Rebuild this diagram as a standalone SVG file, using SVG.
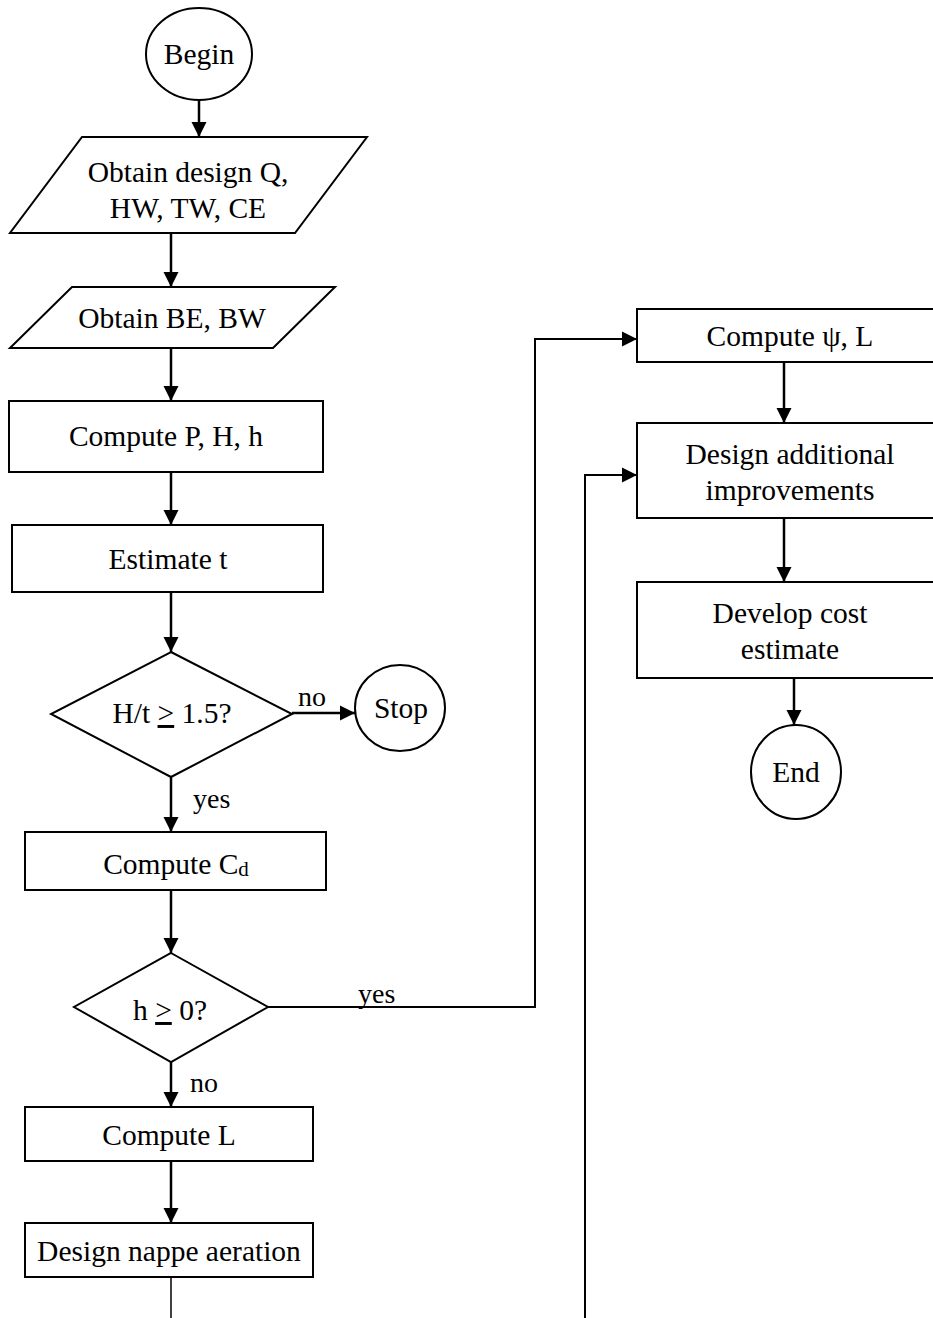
<svg xmlns="http://www.w3.org/2000/svg" width="933" height="1318" viewBox="0 0 933 1318">
<style>
.s{fill:#fff;stroke:#000;stroke-width:2}
.t{font-family:"Liberation Serif","Times New Roman",serif;font-size:29.5px;fill:#000;text-anchor:middle}
.l{font-family:"Liberation Serif","Times New Roman",serif;font-size:28px;fill:#000}
.c{fill:none;stroke:#000;stroke-width:2.5}
.c2{fill:none;stroke:#000;stroke-width:2}
</style>
<defs>
<marker id="ah" markerUnits="userSpaceOnUse" markerWidth="16" markerHeight="16" refX="15" refY="8" orient="auto">
<path d="M0,0.5 L15,8 L0,15.5 Z" fill="#000"/>
</marker>
</defs>
<rect width="933" height="1318" fill="#fff"/>
<g id="connectors">
<line class="c" x1="199" y1="100" x2="199" y2="137" marker-end="url(#ah)"/>
<line class="c" x1="171" y1="233" x2="171" y2="287" marker-end="url(#ah)"/>
<line class="c" x1="171" y1="348" x2="171" y2="401" marker-end="url(#ah)"/>
<line class="c" x1="171" y1="472" x2="171" y2="525" marker-end="url(#ah)"/>
<line class="c" x1="171" y1="592" x2="171" y2="652" marker-end="url(#ah)"/>
<line class="c" x1="292" y1="713" x2="355" y2="713" marker-end="url(#ah)"/>
<line class="c" x1="171" y1="777" x2="171" y2="832" marker-end="url(#ah)"/>
<line class="c" x1="171" y1="890" x2="171" y2="953" marker-end="url(#ah)"/>
<polyline class="c2" points="268,1007 535,1007 535,339 637,339" marker-end="url(#ah)"/>
<line class="c" x1="171" y1="1062" x2="171" y2="1107" marker-end="url(#ah)"/>
<line class="c" x1="171" y1="1161" x2="171" y2="1223" marker-end="url(#ah)"/>
<line class="c2" x1="171" y1="1277" x2="171" y2="1318" style="stroke-width:1.5"/>
<polyline class="c2" points="585,1318 585,475 637,475" marker-end="url(#ah)"/>
<line class="c" x1="784" y1="362" x2="784" y2="423" marker-end="url(#ah)"/>
<line class="c" x1="784" y1="518" x2="784" y2="582" marker-end="url(#ah)"/>
<line class="c" x1="794" y1="678" x2="794" y2="725" marker-end="url(#ah)"/>
<text class="l" x="298" y="706">no</text>
<text class="l" x="193" y="808">yes</text>
<text class="l" x="358" y="1003">yes</text>
<text class="l" x="190" y="1092">no</text>
</g>
<g id="begin">
<ellipse class="s" cx="199" cy="54" rx="53" ry="46"/>
<text class="t" x="199" y="64">Begin</text>
</g>
<g id="obtain1">
<polygon class="s" points="82,137 367,137 295,233 10,233"/>
<text class="t" x="188" y="182">Obtain design Q,</text>
<text class="t" x="188" y="218">HW, TW, CE</text>
</g>
<g id="obtain2">
<polygon class="s" points="72,287 335,287 273,348 10,348"/>
<text class="t" x="172" y="328">Obtain BE, BW</text>
</g>
<g id="computePHh">
<rect class="s" x="9" y="401" width="314" height="71"/>
<text class="t" x="166" y="446">Compute P, H, h</text>
</g>
<g id="estimate">
<rect class="s" x="12" y="525" width="311" height="67"/>
<text class="t" x="168" y="569">Estimate t</text>
</g>
<g id="decision1">
<polygon class="s" points="171,652 292,714 171,777 51,714"/>
<text class="t" x="172" y="723">H/t <tspan style="text-decoration:underline">&gt;</tspan> 1.5?</text>
</g>
<g id="stop">
<ellipse class="s" cx="400" cy="708" rx="45" ry="43"/>
<text class="t" x="401" y="718">Stop</text>
</g>
<g id="computeCd">
<rect class="s" x="25" y="832" width="301" height="58"/>
<text class="t" x="176" y="874">Compute C<tspan font-size="21" dy="2">d</tspan></text>
</g>
<g id="decision2">
<polygon class="s" points="171,953 268,1007 171,1062 74,1007"/>
<text class="t" x="170" y="1020">h <tspan style="text-decoration:underline">&gt;</tspan> 0?</text>
</g>
<g id="computeL">
<rect class="s" x="25" y="1107" width="288" height="54"/>
<text class="t" x="169" y="1145">Compute L</text>
</g>
<g id="nappe">
<rect class="s" x="25" y="1223" width="288" height="54"/>
<text class="t" x="169" y="1261">Design nappe aeration</text>
</g>
<g id="computePsi">
<rect class="s" x="637" y="309" width="306" height="53"/>
<text class="t" x="790" y="346">Compute ψ, L</text>
</g>
<g id="additional">
<rect class="s" x="637" y="423" width="306" height="95"/>
<text class="t" x="790" y="464">Design additional</text>
<text class="t" x="790" y="500">improvements</text>
</g>
<g id="cost">
<rect class="s" x="637" y="582" width="306" height="96"/>
<text class="t" x="790" y="623">Develop cost</text>
<text class="t" x="790" y="659">estimate</text>
</g>
<g id="end">
<ellipse class="s" cx="796" cy="772" rx="45" ry="47"/>
<text class="t" x="796" y="782">End</text>
</g>
</svg>
